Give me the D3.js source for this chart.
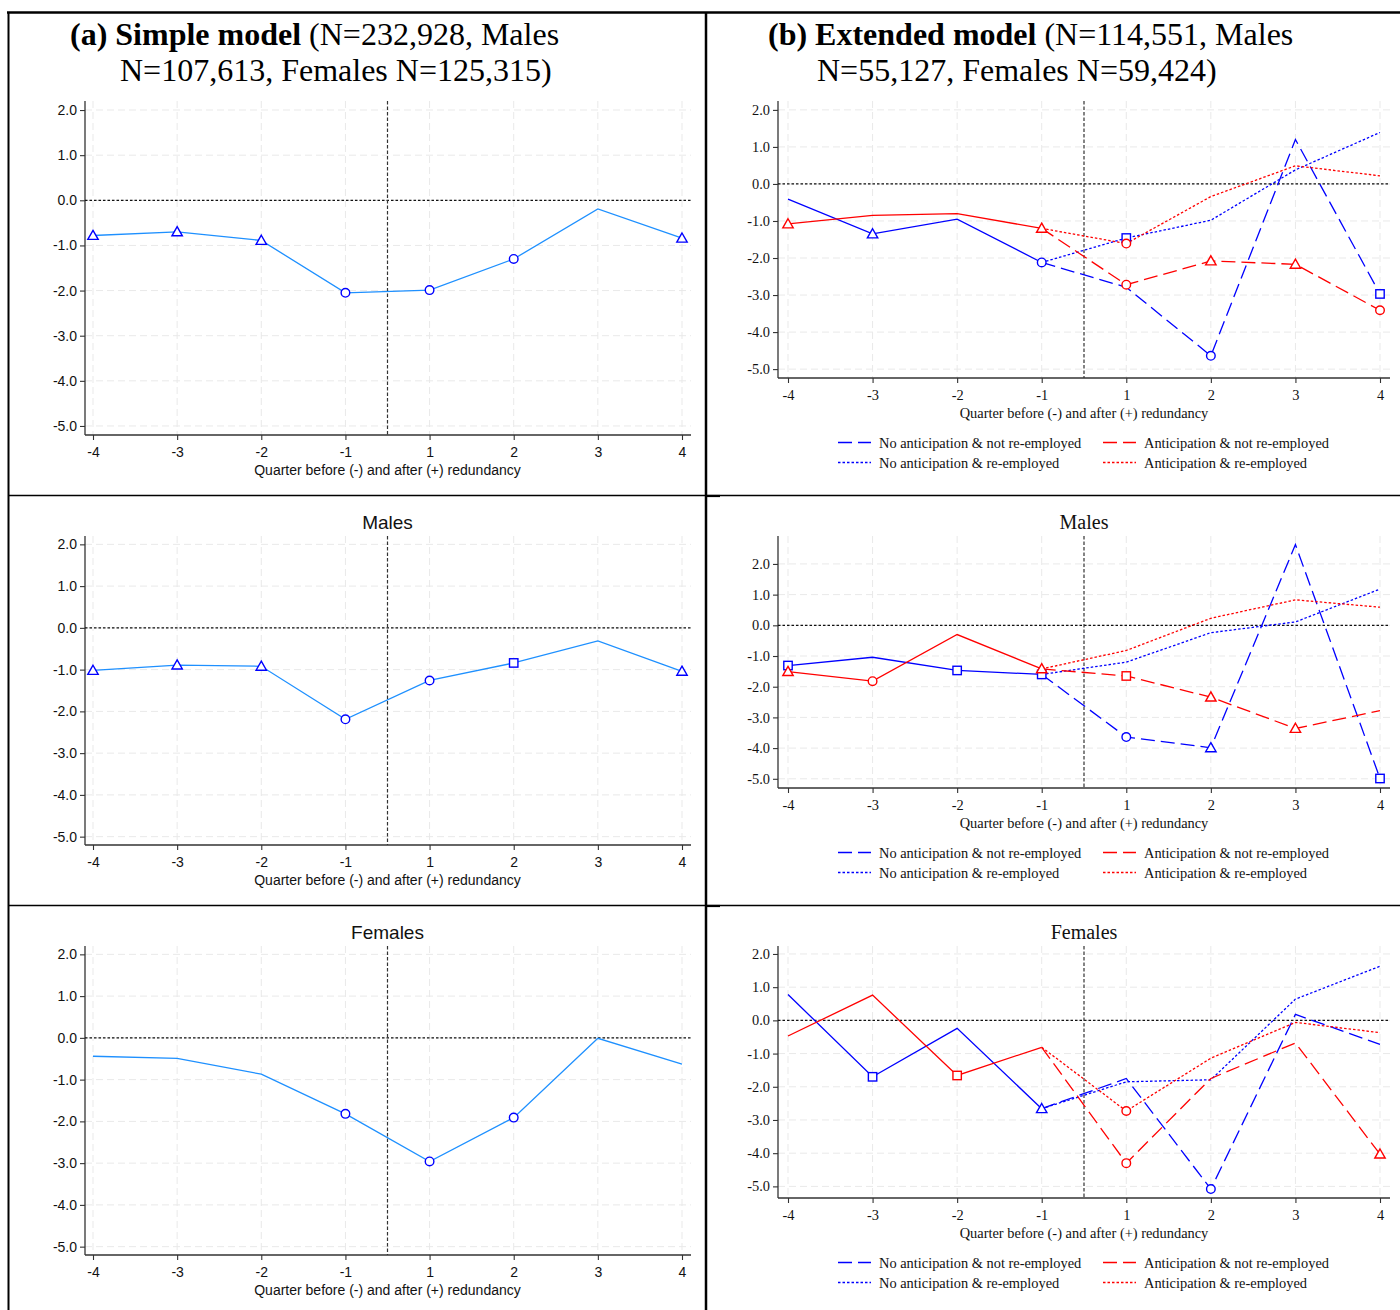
<!DOCTYPE html>
<html><head><meta charset="utf-8">
<script src="https://cdn.jsdelivr.net/npm/d3@7"></script>
<style>body{margin:0;background:#fff}svg{display:block}</style>
</head><body><svg id="c" width="1400" height="1310"></svg>
<script>
// ---------------- DATA ----------------
const quarters = ["-4","-3","-2","-1","1","2","3","4"];
const preQuarters = ["-4","-3","-2","-1"];
const postQuarters = ["-1","1","2","3","4"];
const yTickValues = [2,1,0,-1,-2,-3,-4,-5];
const xTitle = "Quarter before (-) and after (+) redundancy";
const legendLabels = ["No anticipation & not re-employed","Anticipation & not re-employed","No anticipation & re-employed","Anticipation & re-employed"];

// (a) Simple model
const simpleAll = [-0.78,-0.70,-0.89,-2.05,-1.99,-1.30,-0.19,-0.84];
const simpleAllMarks = ["tri","tri","tri","circ","circ","circ","","tri"];
const simpleMales = [-1.02,-0.89,-0.92,-2.19,-1.26,-0.84,-0.31,-1.04];
const simpleMalesMarks = ["tri","tri","tri","circ","circ","sq","","tri"];
const simpleFemales = [-0.44,-0.49,-0.87,-1.82,-2.96,-1.91,-0.01,-0.63];
const simpleFemalesMarks = ["","","","circ","circ","circ","",""];

// (b) Extended model - all
const extAllNoAntPre = [-0.41,-1.35,-0.95,-2.12];
const extAllNoAntPreMarks = ["","tri","","circ"];
const extAllNoAntNotRe = [-2.12,-2.79,-4.64,1.20,-2.97];
const extAllNoAntNotReMarks = ["","","circ","","sq"];
const extAllNoAntRe = [-2.12,-1.46,-0.98,0.38,1.39];
const extAllNoAntReMarks = ["","sq","","",""];
const extAllAntPre = [-1.08,-0.85,-0.80,-1.20];
const extAllAntPreMarks = ["tri","","","tri"];
const extAllAntNotRe = [-1.20,-2.72,-2.08,-2.17,-3.41];
const extAllAntNotReMarks = ["","circ","tri","tri","circ"];
const extAllAntRe = [-1.20,-1.61,-0.34,0.49,0.22];
const extAllAntReMarks = ["","circ","","",""];

// (b) Extended model - males
const extMNoAntPre = [-1.31,-1.04,-1.47,-1.60];
const extMNoAntPreMarks = ["sq","","sq","sq"];
const extMNoAntNotRe = [-1.60,-3.64,-3.99,2.63,-4.99];
const extMNoAntNotReMarks = ["","circ","tri","","sq"];
const extMNoAntRe = [-1.60,-1.20,-0.24,0.11,1.18];
const extMNoAntReMarks = ["","","","",""];
const extMAntPre = [-1.51,-1.82,-0.30,-1.42];
const extMAntPreMarks = ["tri","circ","","tri"];
const extMAntNotRe = [-1.42,-1.65,-2.34,-3.36,-2.78];
const extMAntNotReMarks = ["","sq","tri","tri",""];
const extMAntRe = [-1.42,-0.82,0.23,0.83,0.59];
const extMAntReMarks = ["","","","",""];

// (b) Extended model - females
const extFNoAntPre = [0.78,-1.70,-0.24,-2.66];
const extFNoAntPreMarks = ["","sq","","tri"];
const extFNoAntNotRe = [-2.66,-1.75,-5.08,0.18,-0.72];
const extFNoAntNotReMarks = ["","","circ","",""];
const extFNoAntRe = [-2.66,-1.85,-1.79,0.64,1.63];
const extFNoAntReMarks = ["","","","",""];
const extFAntPre = [-0.47,0.76,-1.66,-0.81];
const extFAntPreMarks = ["","","sq",""];
const extFAntNotRe = [-0.81,-4.30,-1.75,-0.68,-4.03];
const extFAntNotReMarks = ["","circ","","","tri"];
const extFAntRe = [-0.81,-2.73,-1.14,-0.06,-0.37];
const extFAntReMarks = ["","circ","","",""];

// ---------------- DRAWING ----------------
const svg = d3.select("#c");
const SANS = "'Liberation Sans', Arial, Helvetica, sans-serif";
const SERIF = "'Liberation Serif', 'Times New Roman', Times, serif";
const BLUE = "#0000ff", RED = "#ff0000", LBLUE = "#1e90ff";
const DASH = "14,6", DOT = "2.5,2";
const fmt = d => d3.format(".1f")(d).replace("\u2212", "-");

function drawMarker(g, type, cx, cy, color) {
  if (!type) return;
  if (type === "circ") {
    g.append("circle").attr("cx", cx).attr("cy", cy).attr("r", 4.3)
      .attr("fill", "#fff").attr("stroke", color).attr("stroke-width", 1.4);
  } else if (type === "sq") {
    g.append("rect").attr("x", cx - 4.2).attr("y", cy - 4.2).attr("width", 8.4).attr("height", 8.4)
      .attr("fill", "#fff").attr("stroke", color).attr("stroke-width", 1.4);
  } else if (type === "tri") {
    const s = 5.2;
    g.append("path").attr("d", `M${cx},${cy - s}L${cx + s},${cy + s * 0.75}L${cx - s},${cy + s * 0.75}Z`)
      .attr("fill", "#fff").attr("stroke", color).attr("stroke-width", 1.4);
  }
}

function drawPanel(cfg) {
  const g = svg.append("g");
  const x = d3.scalePoint().domain(quarters).range([cfg.xFirst, cfg.xLast]);
  const y = d3.scaleLinear().domain([cfg.yMin, cfg.yMax]).range([cfg.bottom, cfg.top]);
  const font = cfg.font;

  // grid
  g.selectAll(".hg").data(yTickValues).join("line")
    .attr("x1", cfg.axisX).attr("x2", cfg.right)
    .attr("y1", d => y(d)).attr("y2", d => y(d))
    .attr("stroke", "#e9e9e9").attr("stroke-width", 1).attr("stroke-dasharray", "7,4");
  g.selectAll(".vg").data(quarters).join("line")
    .attr("x1", d => x(d)).attr("x2", d => x(d))
    .attr("y1", cfg.top).attr("y2", cfg.bottom)
    .attr("stroke", "#e9e9e9").attr("stroke-width", 1).attr("stroke-dasharray", "7,4");

  // axes
  const yAxis = d3.axisLeft(y).tickValues(yTickValues).tickFormat(fmt).tickSize(5).tickPadding(3);
  const ya = g.append("g").attr("transform", `translate(${cfg.axisX},0)`).call(yAxis);
  ya.select(".domain").attr("d", `M0,${cfg.top}V${cfg.bottom}`).attr("stroke", "#333").attr("stroke-width", 1.3);
  ya.selectAll(".tick line").attr("stroke", "#333").attr("stroke-width", 1.1);
  ya.selectAll("text").attr("font-family", font).attr("font-size", cfg.fs).attr("fill", "#111");

  const xAxis = d3.axisBottom(x).tickSize(5).tickPadding(7);
  const xa = g.append("g").attr("transform", `translate(0,${cfg.bottom})`).call(xAxis);
  xa.select(".domain").attr("d", `M${cfg.axisX},0H${cfg.right}`).attr("stroke", "#333").attr("stroke-width", 1.3);
  xa.selectAll(".tick line").attr("stroke", "#333").attr("stroke-width", 1.1);
  xa.selectAll("text").attr("font-family", font).attr("font-size", cfg.fs).attr("fill", "#111");

  // reference lines
  g.append("line").attr("x1", cfg.axisX).attr("x2", cfg.right).attr("y1", y(0)).attr("y2", y(0))
    .attr("stroke", "#111").attr("stroke-width", 1.2).attr("stroke-dasharray", "2.5,2");
  const vx = (x("-1") + x("1")) / 2;
  g.append("line").attr("x1", vx).attr("x2", vx).attr("y1", cfg.top).attr("y2", cfg.bottom)
    .attr("stroke", "#333").attr("stroke-width", 1.2).attr("stroke-dasharray", "3.5,2");

  // series
  const line = d3.line().x(d => x(d.q)).y(d => y(d.v));
  cfg.series.forEach(s => {
    const pts = s.q.map((q, i) => ({ q, v: s.v[i] }));
    g.append("path").datum(pts).attr("d", line).attr("fill", "none")
      .attr("stroke", s.color).attr("stroke-width", 1.3)
      .attr("stroke-dasharray", s.dash || null);
  });
  cfg.series.forEach(s => {
    s.q.forEach((q, i) => drawMarker(g, s.m[i], x(q), y(s.v[i]), s.mcolor || s.color));
  });

  // titles
  if (cfg.title) {
    g.append("text").attr("x", vx).attr("y", cfg.titleY).attr("text-anchor", "middle")
      .attr("font-family", font).attr("font-size", cfg.titleFs).attr("fill", "#111").text(cfg.title);
  }
  g.append("text").attr("x", vx).attr("y", cfg.bottom + cfg.xTitleDy).attr("text-anchor", "middle")
    .attr("font-family", font).attr("font-size", cfg.fs).attr("fill", "#111").text(xTitle);

  // legend
  if (cfg.legend) {
    const items = [
      { c: BLUE, d: DASH, t: legendLabels[0], col: 0, row: 0 },
      { c: RED, d: DASH, t: legendLabels[1], col: 1, row: 0 },
      { c: BLUE, d: DOT, t: legendLabels[2], col: 0, row: 1 },
      { c: RED, d: DOT, t: legendLabels[3], col: 1, row: 1 }
    ];
    const colX = [838, 1103];
    items.forEach(it => {
      const ly = cfg.bottom + 64.5 + it.row * 20;
      g.append("line").attr("x1", colX[it.col]).attr("x2", colX[it.col] + 33).attr("y1", ly).attr("y2", ly)
        .attr("stroke", it.c).attr("stroke-width", 1.3).attr("stroke-dasharray", it.d);
      g.append("text").attr("x", colX[it.col] + 41).attr("y", ly + 5).attr("font-family", font)
        .attr("font-size", cfg.fs).attr("fill", "#111").text(it.t);
    });
  }
}

// Left column panels
const leftBase = { xFirst: 93, xLast: 682, axisX: 85, right: 691, font: SANS, fs: 14, titleFs: 19, xTitleDy: 40, yMin: -5.2, yMax: 2.2 };
drawPanel(Object.assign({}, leftBase, { top: 101, bottom: 435,
  series: [{ q: quarters, v: simpleAll, m: simpleAllMarks, color: LBLUE, mcolor: BLUE }] }));
drawPanel(Object.assign({}, leftBase, { top: 536, bottom: 845, title: "Males", titleY: 529,
  series: [{ q: quarters, v: simpleMales, m: simpleMalesMarks, color: LBLUE, mcolor: BLUE }] }));
drawPanel(Object.assign({}, leftBase, { top: 946, bottom: 1255, title: "Females", titleY: 939,
  series: [{ q: quarters, v: simpleFemales, m: simpleFemalesMarks, color: LBLUE, mcolor: BLUE }] }));

// Right column panels
const rightBase = { xFirst: 788, xLast: 1380, axisX: 778, right: 1390, font: SERIF, fs: 14.4, titleFs: 20, xTitleDy: 40, legend: true };
function extSeries(np, npm, nn, nnm, nr, nrm, ap, apm, an, anm, ar, arm) {
  return [
    { q: preQuarters, v: np, m: npm, color: BLUE },
    { q: postQuarters, v: nn, m: nnm, color: BLUE, dash: DASH },
    { q: postQuarters, v: nr, m: nrm, color: BLUE, dash: DOT },
    { q: preQuarters, v: ap, m: apm, color: RED },
    { q: postQuarters, v: an, m: anm, color: RED, dash: DASH },
    { q: postQuarters, v: ar, m: arm, color: RED, dash: DOT }
  ];
}
drawPanel(Object.assign({}, rightBase, { top: 101, bottom: 378, yMin: -5.24, yMax: 2.24,
  series: extSeries(extAllNoAntPre, extAllNoAntPreMarks, extAllNoAntNotRe, extAllNoAntNotReMarks, extAllNoAntRe, extAllNoAntReMarks,
    extAllAntPre, extAllAntPreMarks, extAllAntNotRe, extAllAntNotReMarks, extAllAntRe, extAllAntReMarks) }));
drawPanel(Object.assign({}, rightBase, { top: 536, bottom: 788, yMin: -5.3, yMax: 2.91, title: "Males", titleY: 529,
  series: extSeries(extMNoAntPre, extMNoAntPreMarks, extMNoAntNotRe, extMNoAntNotReMarks, extMNoAntRe, extMNoAntReMarks,
    extMAntPre, extMAntPreMarks, extMAntNotRe, extMAntNotReMarks, extMAntRe, extMAntReMarks) }));
drawPanel(Object.assign({}, rightBase, { top: 946, bottom: 1198, yMin: -5.35, yMax: 2.24, title: "Females", titleY: 939,
  series: extSeries(extFNoAntPre, extFNoAntPreMarks, extFNoAntNotRe, extFNoAntNotReMarks, extFNoAntRe, extFNoAntReMarks,
    extFAntPre, extFAntPreMarks, extFAntNotRe, extFAntNotReMarks, extFAntRe, extFAntReMarks) }));

// Main headings
function heading(x1, x2, boldText, restText, line2) {
  const t = svg.append("text").attr("x", x1).attr("y", 44.5).attr("font-family", SERIF).attr("font-size", 32).attr("fill", "#000");
  t.append("tspan").attr("font-weight", "bold").text(boldText);
  t.append("tspan").text(restText);
  svg.append("text").attr("x", x2).attr("y", 80.5).attr("font-family", SERIF).attr("font-size", 32).attr("fill", "#000").text(line2);
}
heading(70, 120, "(a) Simple model", " (N=232,928, Males", "N=107,613, Females N=125,315)");
heading(768, 817, "(b) Extended model", " (N=114,551, Males", "N=55,127, Females N=59,424)");

// Frame lines
const frame = svg.append("g").attr("stroke", "#000").attr("fill", "none");
frame.append("line").attr("x1", 7).attr("x2", 1400).attr("y1", 12.5).attr("y2", 12.5).attr("stroke-width", 2.5);
frame.append("line").attr("x1", 8.5).attr("x2", 8.5).attr("y1", 12).attr("y2", 1310).attr("stroke-width", 2);
frame.append("line").attr("x1", 706).attr("x2", 706).attr("y1", 12).attr("y2", 1310).attr("stroke-width", 2.5);
[495.5, 905.5].forEach(yy => {
  frame.append("line").attr("x1", 8).attr("x2", 1400).attr("y1", yy).attr("y2", yy).attr("stroke-width", 1.3);
  frame.append("line").attr("x1", 706).attr("x2", 720).attr("y1", yy + 0.5).attr("y2", yy + 0.5).attr("stroke-width", 2.2);
});
</script></body></html>
